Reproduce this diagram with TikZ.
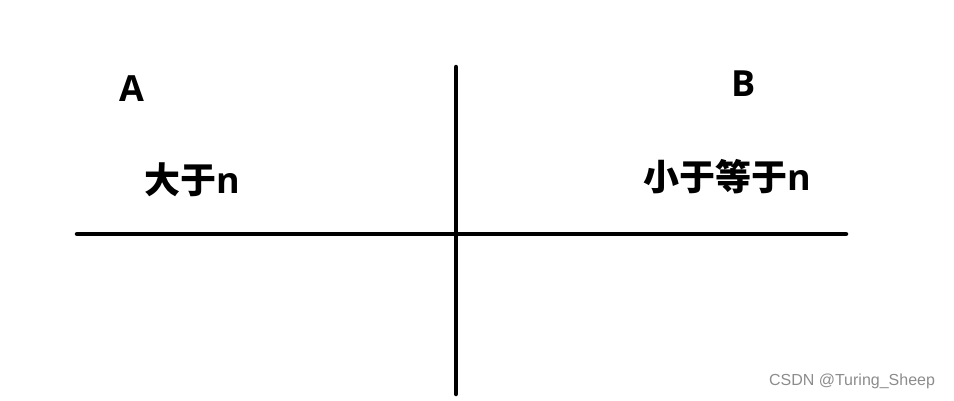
\documentclass[tikz,border=0pt]{standalone}
\usepackage{fontspec}
\newfontfamily\cjk{Noto Sans CJK SC}
\newfontfamily\latin{Open Sans}
\newfontfamily\wmfont{Liberation Sans}
\newcommand{\lat}[1]{{\latin\bfseries #1}}
\begin{document}
\begin{tikzpicture}[x=1pt,y=-1pt,
  axis/.style={line width=4.5pt,line cap=round},
  lbl/.style={inner sep=0pt,font=\cjk\bfseries\fontsize{36}{40}\selectfont},
  wm/.style={inner sep=0pt,text=black!45,font=\wmfont\fontsize{16}{18}\selectfont}]
\useasboundingbox (0,0) rectangle (954,400);
\coordinate (vt) at (456,67);
\coordinate (vb) at (456,394);
\coordinate (hl) at (77,234);
\coordinate (hr) at (846,234);
\draw[axis] (vt) -- (vb);
\draw[axis] (hl) -- (hr);
\node[lbl] (a) at (131.5,88.5) {\lat{A}};
\node[lbl] (b) at (743.5,84) {\lat{B}};
\node[lbl] (gt) at (192.5,180) {大于\lat{n}};
\node[lbl] (le) at (727,177) {小于等于\lat{n}};
\node[wm] (mark) at (852,381) {CSDN @Turing\_Sheep};
\end{tikzpicture}
\end{document}
